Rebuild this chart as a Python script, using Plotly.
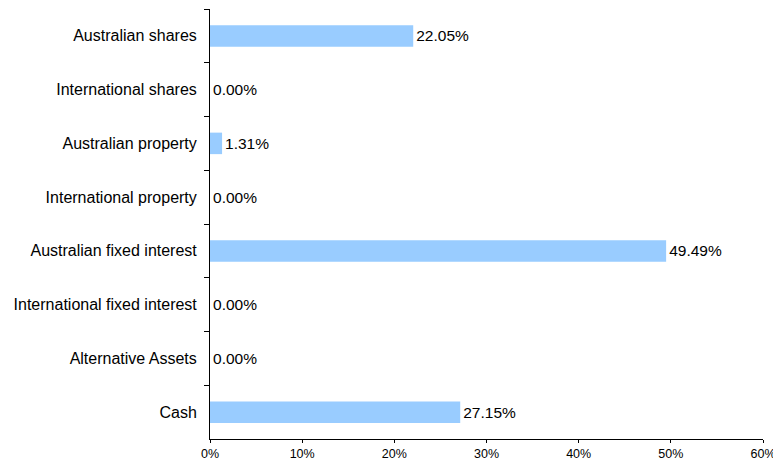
import plotly.graph_objects as go

categories = ["Australian shares", "International shares", "Australian property",
              "International property", "Australian fixed interest",
              "International fixed interest", "Alternative Assets", "Cash"]
values = [22.05, 0.00, 1.31, 0.00, 49.49, 0.00, 0.00, 27.15]
labels = [f"{v:.2f}%" for v in values]

fig = go.Figure(go.Bar(
    y=categories, x=values, orientation="h",
    marker=dict(color="#99CCFF", line=dict(width=0)),
    width=0.4,
    text=labels, textposition="outside", cliponaxis=False,
    textfont=dict(family="Liberation Sans, Arial", size=15.5, color="#000000"),
))

# page body has an 8px default margin, so the figure is sized to fit the window
fig.update_layout(
    width=773, height=453,
    margin=dict(l=202, r=18, t=1, b=22, autoexpand=False),
    paper_bgcolor="white", plot_bgcolor="white",
    showlegend=False,
    font=dict(family="Liberation Sans, Arial", color="#000000"),
    bargap=0.6,
)
fig.update_xaxes(
    range=[0, 60], dtick=10, ticksuffix="%",
    showgrid=False, zeroline=False, automargin=False,
    showline=True, linecolor="#000000", linewidth=1,
    ticks="outside", ticklen=3, tickcolor="#000000",
    tickfont=dict(size=12.5),
)
fig.update_yaxes(
    categoryorder="array", categoryarray=categories, autorange="reversed",
    showgrid=False, zeroline=False, automargin=False,
    showline=True, linecolor="#000000", linewidth=1,
    ticks="outside", ticklen=5, tickcolor="#000000", tickson="boundaries",
    tickfont=dict(size=16), ticklabelstandoff=9,
)

fig.write_html("out.html")
